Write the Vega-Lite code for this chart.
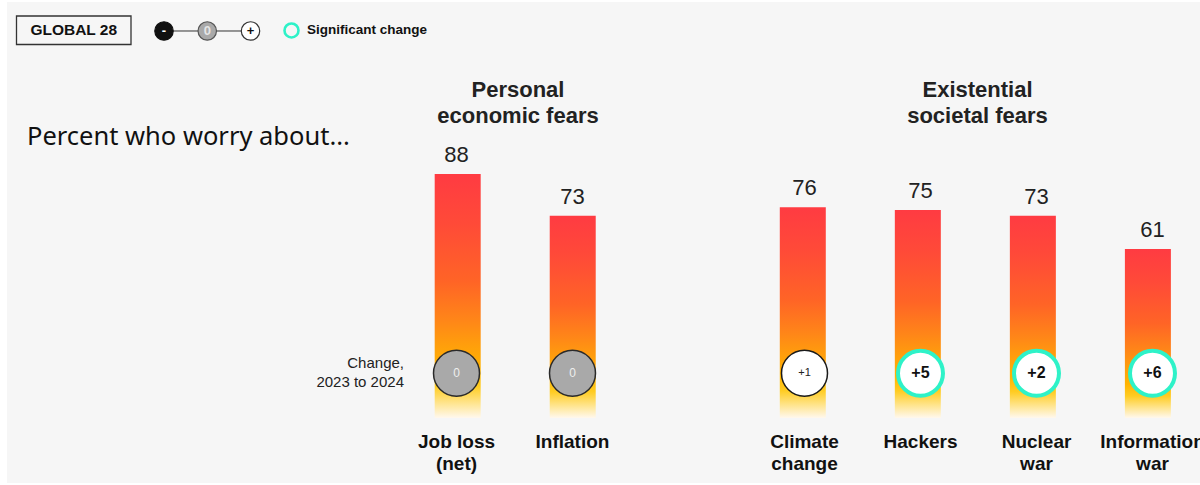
{
  "$schema": "https://vega.github.io/schema/vega-lite/v6.json",
  "width": 1200,
  "height": 485,
  "autosize": {"type": "none"},
  "padding": 0,
  "background": "#ffffff",
  "config": {
    "view": {"stroke": null},
    "axis": {"disable": true},
    "legend": {"disable": true},
    "text": {"font": "Liberation Sans"}
  },
  "datasets": {
    "bars": [
      {"pos": 0, "label": "Job loss\n(net)", "value": 88, "change": "0", "status": "none"},
      {"pos": 1, "label": "Inflation", "value": 73, "change": "0", "status": "none"},
      {"pos": 3, "label": "Climate\nchange", "value": 76, "change": "+1", "status": "up"},
      {"pos": 4, "label": "Hackers", "value": 75, "change": "+5", "status": "significant"},
      {"pos": 5, "label": "Nuclear\nwar", "value": 73, "change": "+2", "status": "significant"},
      {"pos": 6, "label": "Information\nwar", "value": 61, "change": "+6", "status": "significant"}
    ],
    "legendSteps": [
      {"step": "-"},
      {"step": "0"},
      {"step": "+"}
    ],
    "one": [{}]
  },
  "layer": [
    {
      "data": {"name": "one"},
      "mark": {"type": "rect", "fill": "#f6f6f6"},
      "encoding": {
        "x": {"datum": -3.875, "type": "quantitative", "scale": {"domain": [-3.9353, 6.4095], "nice": false, "zero": false}},
        "x2": {"datum": 6.5},
        "y": {"datum": 150.07, "type": "quantitative", "scale": {"domain": [-24.17, 150.79], "nice": false, "zero": false}},
        "y2": {"datum": -23.45}
      }
    },
    {
      "data": {"name": "one"},
      "mark": {"type": "rect", "fill": "#f6f6f6", "stroke": "#333333", "strokeWidth": 1.3},
      "encoding": {
        "x": {"datum": -3.7931, "type": "quantitative", "scale": {"domain": [-3.9353, 6.4095], "nice": false, "zero": false}},
        "x2": {"datum": -2.806},
        "y": {"datum": 145.02, "type": "quantitative", "scale": {"domain": [-24.17, 150.79], "nice": false, "zero": false}},
        "y2": {"datum": 134.74}
      }
    },
    {
      "data": {"name": "one"},
      "mark": {"type": "text", "text": "GLOBAL 28", "fontSize": 15.5, "fontWeight": "bold", "color": "#111111", "align": "center", "baseline": "middle"},
      "encoding": {
        "x": {"datum": -3.2996, "type": "quantitative", "scale": {"domain": [-3.9353, 6.4095], "nice": false, "zero": false}},
        "y": {"datum": 139.79, "type": "quantitative", "scale": {"domain": [-24.17, 150.79], "nice": false, "zero": false}}
      }
    },
    {
      "data": {"name": "one"},
      "mark": {"type": "rule", "color": "#333333", "strokeWidth": 1},
      "encoding": {
        "x": {"datum": -2.5216, "type": "quantitative", "scale": {"domain": [-3.9353, 6.4095], "nice": false, "zero": false}},
        "x2": {"datum": -1.7759},
        "y": {"datum": 139.61, "type": "quantitative", "scale": {"domain": [-24.17, 150.79], "nice": false, "zero": false}}
      }
    },
    {
      "data": {"name": "legendSteps"},
      "mark": {"type": "point", "shape": "circle", "filled": true, "size": 340, "opacity": 1, "strokeWidth": 1.2},
      "encoding": {
        "x": {"field": "step", "type": "ordinal", "sort": null, "scale": {"type": "point", "domain": ["-", "0", "+"], "range": [164, 250.5], "padding": 0}},
        "y": {"datum": 139.61, "type": "quantitative", "scale": {"domain": [-24.17, 150.79], "nice": false, "zero": false}},
        "fill": {"condition": [{"test": "datum.step === '-'", "value": "#111111"}, {"test": "datum.step === '0'", "value": "#a9a9a9"}], "value": "#ffffff"},
        "stroke": {"condition": [{"test": "datum.step === '-'", "value": "#111111"}, {"test": "datum.step === '0'", "value": "#555555"}], "value": "#333333"}
      }
    },
    {
      "data": {"name": "legendSteps"},
      "mark": {"type": "text", "fontSize": 13, "fontWeight": "bold", "align": "center", "baseline": "middle"},
      "encoding": {
        "x": {"field": "step", "type": "ordinal", "sort": null, "scale": {"type": "point", "domain": ["-", "0", "+"], "range": [164, 250.5], "padding": 0}},
        "y": {"datum": 139.61, "type": "quantitative", "scale": {"domain": [-24.17, 150.79], "nice": false, "zero": false}},
        "text": {"field": "step"},
        "color": {"condition": [{"test": "datum.step === '-'", "value": "#ffffff"}, {"test": "datum.step === '0'", "value": "#e6e6e6"}], "value": "#111111"}
      }
    },
    {
      "data": {"name": "one"},
      "mark": {"type": "point", "shape": "circle", "filled": false, "size": 196, "stroke": "#2ef2c8", "strokeWidth": 2.6, "opacity": 1},
      "encoding": {
        "x": {"datum": -1.4224, "type": "quantitative", "scale": {"domain": [-3.9353, 6.4095], "nice": false, "zero": false}},
        "y": {"datum": 139.79, "type": "quantitative", "scale": {"domain": [-24.17, 150.79], "nice": false, "zero": false}}
      }
    },
    {
      "data": {"name": "one"},
      "mark": {"type": "text", "text": "Significant change", "fontSize": 13.5, "fontWeight": "bold", "color": "#111111", "align": "left", "baseline": "middle"},
      "encoding": {
        "x": {"datum": -1.2888, "type": "quantitative", "scale": {"domain": [-3.9353, 6.4095], "nice": false, "zero": false}},
        "y": {"datum": 139.79, "type": "quantitative", "scale": {"domain": [-24.17, 150.79], "nice": false, "zero": false}}
      }
    },
    {
      "data": {"name": "one"},
      "mark": {"type": "text", "text": "Percent who worry about...", "font": "Noto Sans", "fontSize": 25.5, "color": "#111111", "align": "left", "baseline": "middle"},
      "encoding": {
        "x": {"datum": -3.7026, "type": "quantitative", "scale": {"domain": [-3.9353, 6.4095], "nice": false, "zero": false}},
        "y": {"datum": 101.37, "type": "quantitative", "scale": {"domain": [-24.17, 150.79], "nice": false, "zero": false}}
      }
    },
    {
      "data": {"name": "one"},
      "mark": {"type": "text", "text": ["Personal", "economic fears"], "fontSize": 22, "fontWeight": "bold", "color": "#222222", "align": "center", "baseline": "alphabetic", "lineHeight": 26},
      "encoding": {
        "x": {"datum": 0.5302, "type": "quantitative", "scale": {"domain": [-3.9353, 6.4095], "nice": false, "zero": false}},
        "y": {"datum": 115.8, "type": "quantitative", "scale": {"domain": [-24.17, 150.79], "nice": false, "zero": false}}
      }
    },
    {
      "data": {"name": "one"},
      "mark": {"type": "text", "text": ["Existential", "societal fears"], "fontSize": 22, "fontWeight": "bold", "color": "#222222", "align": "center", "baseline": "alphabetic", "lineHeight": 26},
      "encoding": {
        "x": {"datum": 4.4914, "type": "quantitative", "scale": {"domain": [-3.9353, 6.4095], "nice": false, "zero": false}},
        "y": {"datum": 115.8, "type": "quantitative", "scale": {"domain": [-24.17, 150.79], "nice": false, "zero": false}}
      }
    },
    {
      "data": {"name": "one"},
      "mark": {"type": "text", "text": ["Change,", "2023 to 2024"], "fontSize": 15, "color": "#222222", "align": "right", "baseline": "alphabetic", "lineHeight": 19},
      "encoding": {
        "x": {"datum": -0.4526, "type": "quantitative", "scale": {"domain": [-3.9353, 6.4095], "nice": false, "zero": false}},
        "y": {"datum": 18.04, "type": "quantitative", "scale": {"domain": [-24.17, 150.79], "nice": false, "zero": false}}
      }
    },
    {
      "data": {"name": "bars"},
      "mark": {
        "type": "bar",
        "width": 46,
        "color": {
          "gradient": "linear",
          "x1": 0, "y1": 0, "x2": 0, "y2": 1,
          "stops": [
            {"offset": 0, "color": "#ff3b42"},
            {"offset": 0.2, "color": "#ff4a38"},
            {"offset": 0.44, "color": "#ff6426"},
            {"offset": 0.6, "color": "#ff8618"},
            {"offset": 0.7, "color": "#ff9e0c"},
            {"offset": 0.8, "color": "#ffb400"},
            {"offset": 0.87, "color": "#ffcc22"},
            {"offset": 0.94, "color": "#ffe590"},
            {"offset": 1, "color": "#fff8ee"}
          ]
        }
      },
      "encoding": {
        "x": {"field": "pos", "type": "quantitative", "scale": {"domain": [-3.9353, 6.4095], "nice": false, "zero": false}},
        "y": {"field": "value", "type": "quantitative", "scale": {"domain": [-24.17, 150.79], "nice": false, "zero": false}},
        "y2": {"datum": 0}
      }
    },
    {
      "data": {"name": "bars"},
      "mark": {"type": "text", "fontSize": 22, "color": "#222222", "align": "center", "baseline": "alphabetic", "dy": -12},
      "encoding": {
        "x": {"field": "pos", "type": "quantitative", "scale": {"domain": [-3.9353, 6.4095], "nice": false, "zero": false}},
        "y": {"field": "value", "type": "quantitative", "scale": {"domain": [-24.17, 150.79], "nice": false, "zero": false}},
        "text": {"field": "value", "type": "quantitative"}
      }
    },
    {
      "data": {"name": "bars"},
      "mark": {"type": "point", "shape": "circle", "filled": true, "opacity": 1},
      "encoding": {
        "x": {"field": "pos", "type": "quantitative", "scale": {"domain": [-3.9353, 6.4095], "nice": false, "zero": false}},
        "y": {"datum": 16.13, "type": "quantitative", "scale": {"domain": [-24.17, 150.79], "nice": false, "zero": false}},
        "fill": {"condition": {"test": "datum.status === 'none'", "value": "#a9a9a9"}, "value": "#ffffff"},
        "stroke": {"condition": [{"test": "datum.status === 'none'", "value": "#2a2a2a"}, {"test": "datum.status === 'up'", "value": "#1a1a1a"}], "value": "#2ef2c8"},
        "strokeWidth": {"condition": {"test": "datum.status === 'significant'", "value": 4}, "value": 1.5},
        "size": {"condition": {"test": "datum.status === 'significant'", "value": 2025}, "value": 2116}
      }
    },
    {
      "data": {"name": "bars"},
      "transform": [{"filter": "datum.status === 'none'"}],
      "mark": {"type": "text", "fontSize": 12, "color": "#eeeeee", "align": "center", "baseline": "middle"},
      "encoding": {
        "x": {"field": "pos", "type": "quantitative", "scale": {"domain": [-3.9353, 6.4095], "nice": false, "zero": false}},
        "y": {"datum": 16.13, "type": "quantitative", "scale": {"domain": [-24.17, 150.79], "nice": false, "zero": false}},
        "text": {"field": "change"}
      }
    },
    {
      "data": {"name": "bars"},
      "transform": [{"filter": "datum.status === 'up'"}],
      "mark": {"type": "text", "fontSize": 11, "color": "#222222", "align": "center", "baseline": "middle"},
      "encoding": {
        "x": {"field": "pos", "type": "quantitative", "scale": {"domain": [-3.9353, 6.4095], "nice": false, "zero": false}},
        "y": {"datum": 16.13, "type": "quantitative", "scale": {"domain": [-24.17, 150.79], "nice": false, "zero": false}},
        "text": {"field": "change"}
      }
    },
    {
      "data": {"name": "bars"},
      "transform": [{"filter": "datum.status === 'significant'"}],
      "mark": {"type": "text", "fontSize": 16, "fontWeight": "bold", "color": "#111111", "align": "center", "baseline": "middle"},
      "encoding": {
        "x": {"field": "pos", "type": "quantitative", "scale": {"domain": [-3.9353, 6.4095], "nice": false, "zero": false}},
        "y": {"datum": 16.13, "type": "quantitative", "scale": {"domain": [-24.17, 150.79], "nice": false, "zero": false}},
        "text": {"field": "change"}
      }
    },
    {
      "data": {"name": "bars"},
      "mark": {"type": "text", "fontSize": 19, "fontWeight": "bold", "color": "#111111", "align": "center", "baseline": "alphabetic", "lineBreak": "\n", "lineHeight": 22},
      "encoding": {
        "x": {"field": "pos", "type": "quantitative", "scale": {"domain": [-3.9353, 6.4095], "nice": false, "zero": false}},
        "y": {"datum": -10.82, "type": "quantitative", "scale": {"domain": [-24.17, 150.79], "nice": false, "zero": false}},
        "text": {"field": "label"}
      }
    }
  ],
  "resolve": {"scale": {"x": "independent"}}
}
